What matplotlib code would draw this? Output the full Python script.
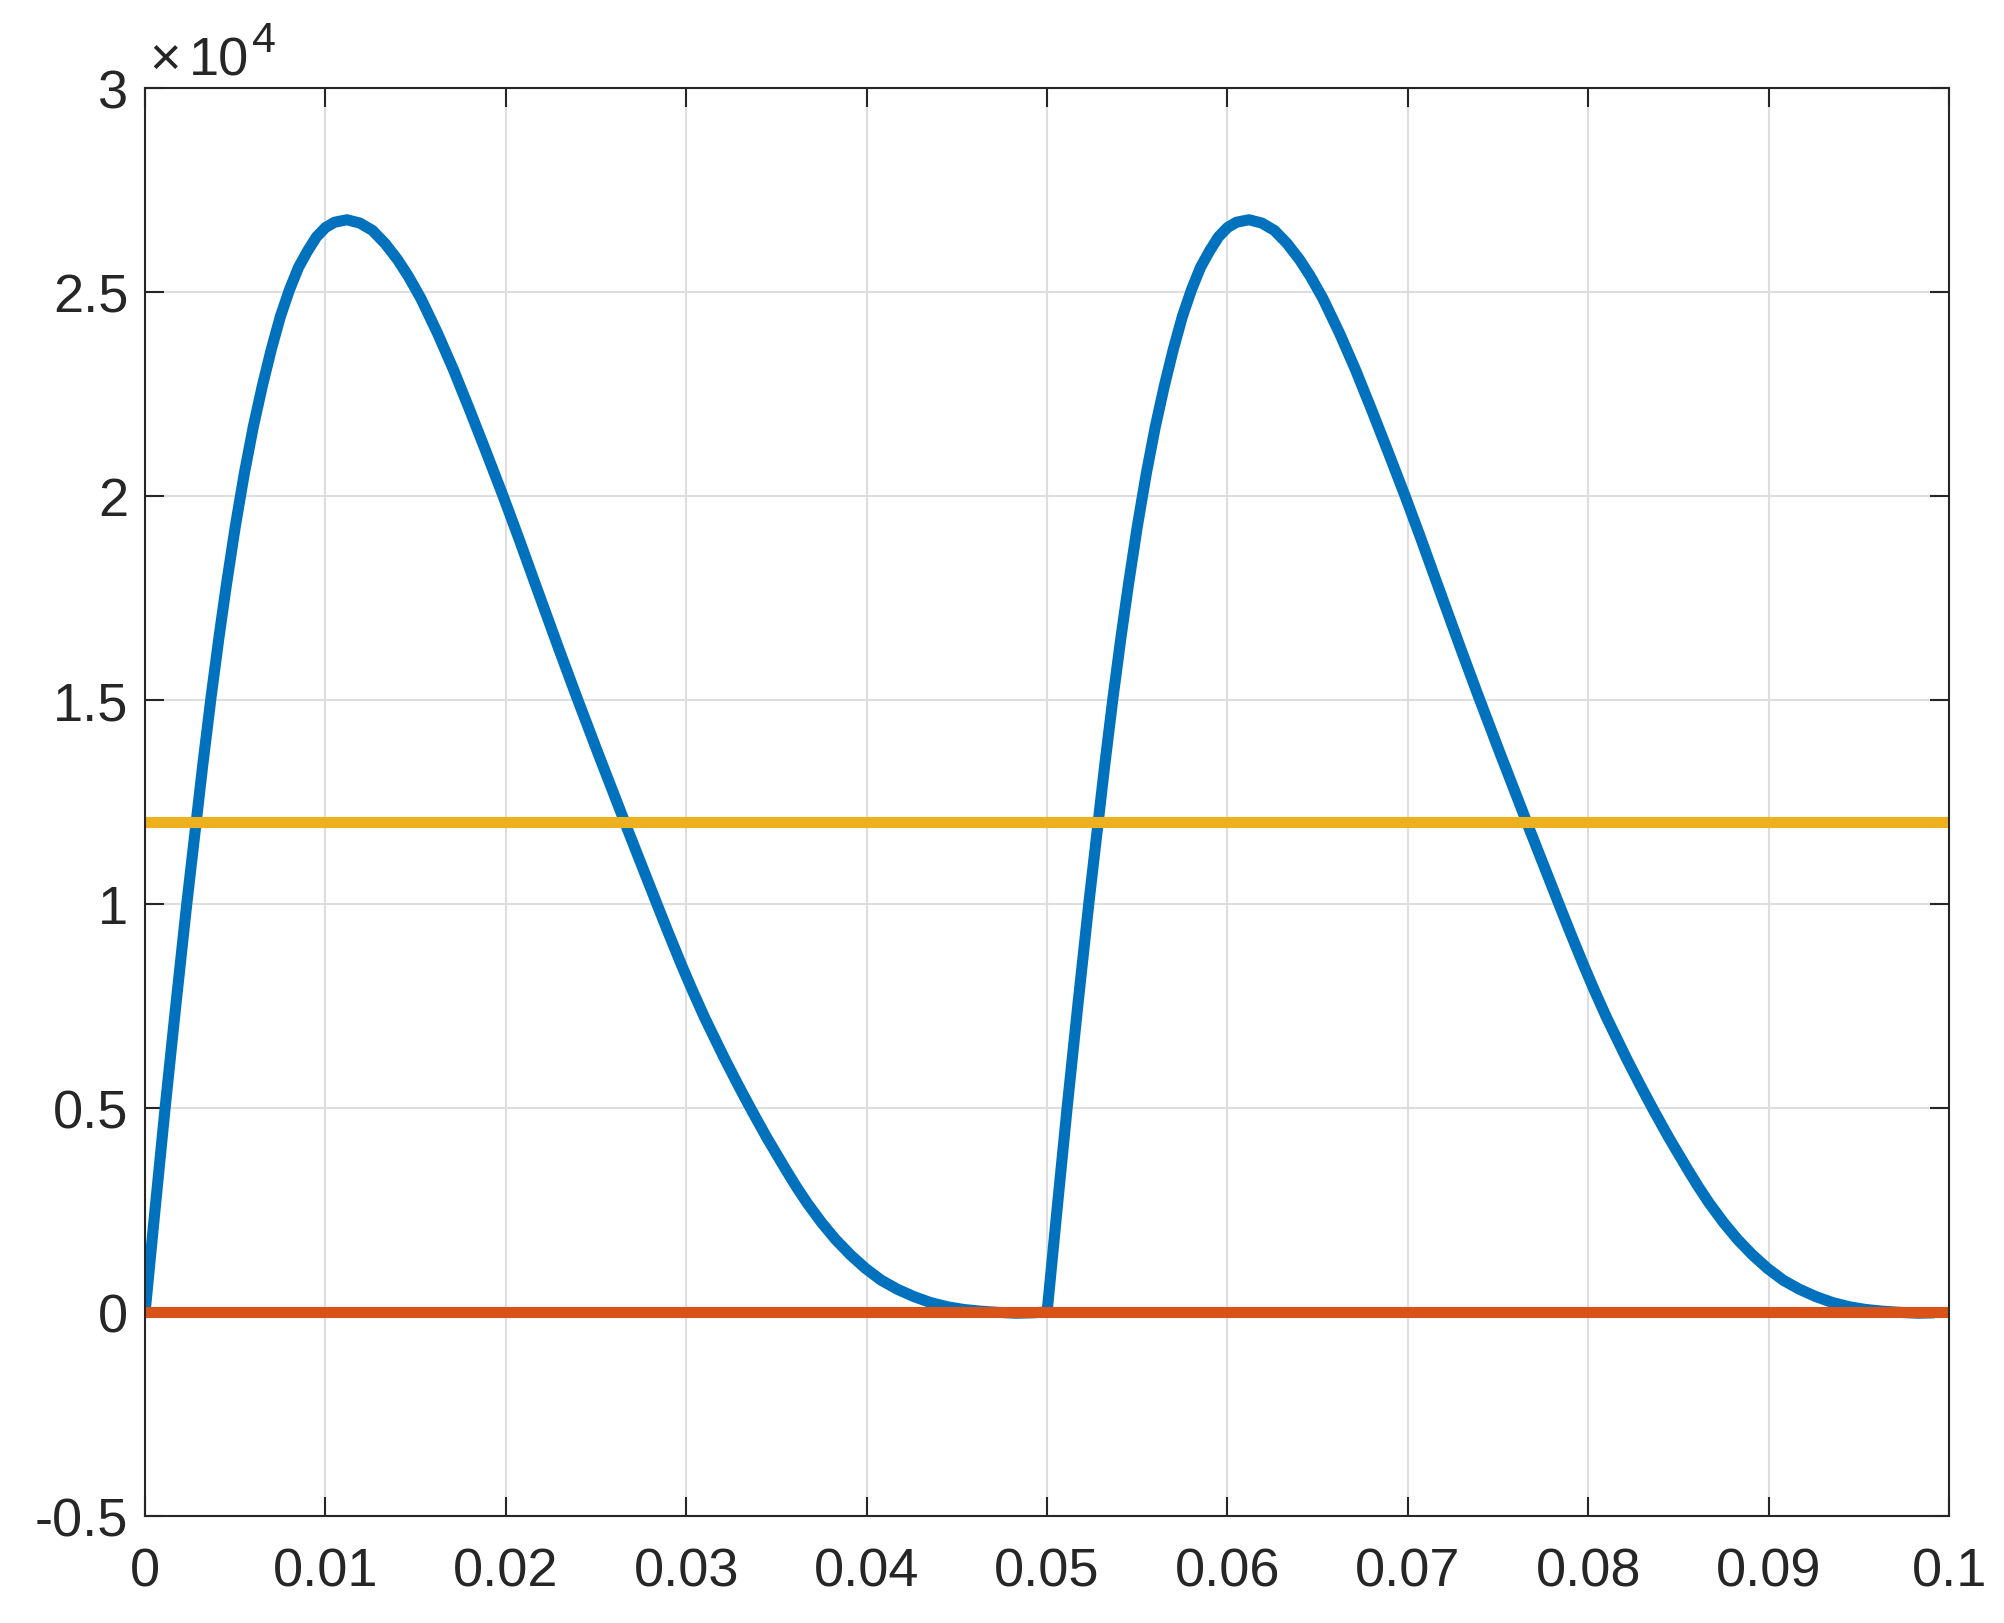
import numpy as np
import matplotlib.pyplot as plt

plt.rcParams['font.family'] = ['Liberation Sans', 'DejaVu Sans']
plt.rcParams['font.size'] = 19.5
plt.rcParams['xtick.direction'] = 'in'
plt.rcParams['ytick.direction'] = 'in'
plt.rcParams['xtick.top'] = True
plt.rcParams['ytick.right'] = True
plt.rcParams['axes.linewidth'] = 0.75

# time in ms (two periods)
t_ms = [0.0, 0.55, 1.11, 1.70, 2.31, 2.83, 3.20, 3.66, 4.10, 4.50, 5.00, 5.50,
        6.00, 6.50, 7.00, 7.50, 8.00, 8.50, 9.00, 9.50, 10.00, 10.50, 11.19,
        11.90, 12.60, 13.30, 14.00, 14.60, 15.29, 16.20, 17.10, 18.00, 18.86,
        19.87, 20.70, 21.54, 22.92, 23.85, 25.05, 26.16, 26.68, 27.31, 28.38,
        29.00, 29.73, 30.32, 31.02, 32.11, 32.90, 33.65, 34.48, 35.50, 36.10,
        36.70, 37.50, 38.27, 39.10, 39.93, 40.80, 41.69, 42.60, 43.54, 44.50,
        45.40, 46.30, 47.30, 48.30, 49.20,
        50.0, 50.55, 51.11, 51.70, 52.31, 52.83, 53.20, 53.66, 54.10, 54.50, 55.00, 55.50,
        56.00, 56.50, 57.00, 57.50, 58.00, 58.50, 59.00, 59.50, 60.00, 60.50, 61.19,
        61.90, 62.60, 63.30, 64.00, 64.60, 65.29, 66.20, 67.10, 68.00, 68.86,
        69.87, 70.70, 71.54, 72.92, 73.85, 75.05, 76.16, 76.68, 77.31, 78.38,
        79.00, 79.73, 80.32, 81.02, 82.11, 82.90, 83.65, 84.48, 85.50, 86.10,
        86.70, 87.50, 88.27, 89.10, 89.93, 90.80, 91.69, 92.60, 93.54, 94.50,
        95.40, 96.30, 97.30, 98.30, 99.20]
# signal in units of 1e4
v_e4 = [0.0, 0.25, 0.50, 0.75, 1.00, 1.20, 1.342, 1.508, 1.655, 1.78, 1.925, 2.055,
        2.17, 2.27, 2.36, 2.44, 2.505, 2.56, 2.60, 2.635, 2.658, 2.671, 2.677,
        2.669, 2.651, 2.619, 2.579, 2.538, 2.484, 2.40, 2.309, 2.21, 2.113,
        1.997, 1.898, 1.795, 1.627, 1.516, 1.376, 1.249, 1.190, 1.119, 0.999,
        0.930, 0.851, 0.790, 0.721, 0.622, 0.554, 0.492, 0.426, 0.350, 0.307,
        0.267, 0.219, 0.178, 0.140, 0.107, 0.078, 0.056, 0.038, 0.023, 0.0125,
        0.006, 0.002, -0.001, -0.003, -0.002,
        0.0, 0.25, 0.50, 0.75, 1.00, 1.20, 1.342, 1.508, 1.655, 1.78, 1.925, 2.055,
        2.17, 2.27, 2.36, 2.44, 2.505, 2.56, 2.60, 2.635, 2.658, 2.671, 2.677,
        2.669, 2.651, 2.619, 2.579, 2.538, 2.484, 2.40, 2.309, 2.21, 2.113,
        1.997, 1.898, 1.795, 1.627, 1.516, 1.376, 1.249, 1.190, 1.119, 0.999,
        0.930, 0.851, 0.790, 0.721, 0.622, 0.554, 0.492, 0.426, 0.350, 0.307,
        0.267, 0.219, 0.178, 0.140, 0.107, 0.078, 0.056, 0.038, 0.023, 0.0125,
        0.006, 0.002, -0.001, -0.003, -0.002]

zero_level = 0.0
avg_level = 1.2e4
t_span = [0.0, 0.1]

xticks = [0, 0.01, 0.02, 0.03, 0.04, 0.05, 0.06, 0.07, 0.08, 0.09, 0.1]
xlabels = ['0', '0.01', '0.02', '0.03', '0.04', '0.05', '0.06', '0.07', '0.08', '0.09', '0.1']
yticks = [-0.5e4, 0, 0.5e4, 1e4, 1.5e4, 2e4, 2.5e4, 3e4]
ylabels = ['-0.5', '0', '0.5', '1', '1.5', '2', '2.5', '3']

t = np.array(t_ms) * 1e-3
v = np.array(v_e4) * 1e4

fig = plt.figure(figsize=(10.02, 8.12), dpi=200)
ax = fig.add_axes([0.0724, 0.0659, 0.9002, 0.8793])

ax.plot(t, v, color='#0072BD', lw=4.0, solid_capstyle='butt', solid_joinstyle='round')
ax.plot(t_span, [zero_level, zero_level], color='#D95319', lw=4.0, solid_capstyle='butt')
ax.plot(t_span, [avg_level, avg_level], color='#EDB120', lw=4.0, solid_capstyle='butt')

ax.set_xlim(0, 0.1)
ax.set_ylim(-0.5e4, 3e4)
ax.set_xticks(xticks)
ax.set_xticklabels(xlabels)
ax.set_yticks(yticks)
ax.set_yticklabels(ylabels)

ax.grid(True, color='#dedede', lw=0.75)
ax.set_axisbelow(True)
for s in ax.spines.values():
    s.set_color('#262626')
ax.tick_params(axis='both', colors='#262626', length=6.8, width=0.75)
ax.tick_params(axis='x', pad=11)
ax.tick_params(axis='y', pad=6)

# MATLAB-style exponent label above the y axis
fig.text(149 / 2004, 1 - 76 / 1624, '×', ha='left', va='baseline',
         color='#262626', fontsize=19.5)
fig.text(189 / 2004, 1 - 76 / 1624, '10', ha='left', va='baseline',
         color='#262626', fontsize=19.5)
fig.text(252 / 2004, 1 - 52 / 1624, '4', ha='left', va='baseline',
         color='#262626', fontsize=15.5)

fig.savefig('out.png', dpi=200)
plt.close('all')
